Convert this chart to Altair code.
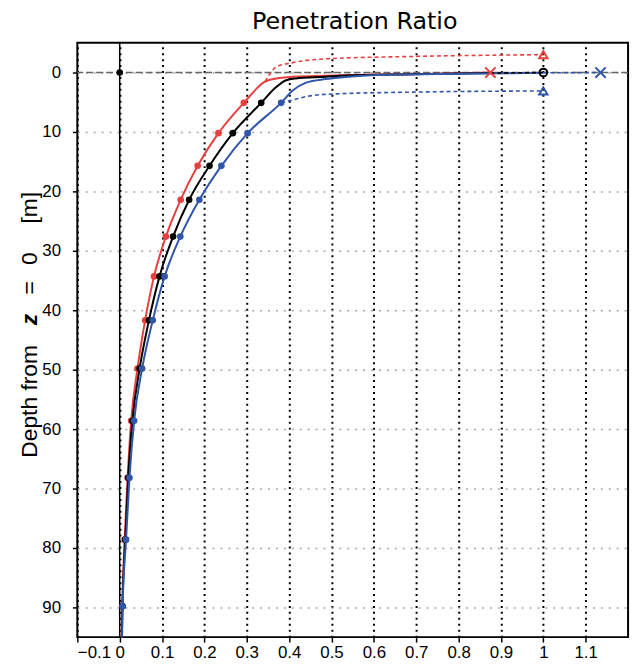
import altair as alt
import pandas as pd

# ---- data ----
chart_title = "Penetration Ratio"
ytitle_parts = ["Depth from", "z", "=", "0", "[m]"]
ytitle_centers = [362, 279.5, 247.5, 218, 166.5]  # along the axis, px from plot top
ytitle_styles = ["normal", "italic", "normal", "normal", "normal"]
ytitle_weights = ["normal", "bold", "normal", "normal", "normal"]

dot_depth = [5.1, 10.2, 15.7, 21.4, 27.6, 34.3, 41.7, 49.8, 58.6, 68.2, 78.6, 89.8]
red_dots = [0.293, 0.233, 0.184, 0.144, 0.109, 0.081, 0.060, 0.042, 0.027, 0.0186, 0.0116, 0.006]
black_dots = [0.334, 0.267, 0.212, 0.164, 0.126, 0.094, 0.069, 0.047, 0.030, 0.020, 0.013, 0.0065]
blue_dots = [0.381, 0.302, 0.240, 0.188, 0.143, 0.106, 0.078, 0.053, 0.034, 0.023, 0.015, 0.007]

# near-surface parts of the solid curves
red_surf_x = [0.343, 0.370, 0.409, 0.486, 0.61, 0.75, 0.875]
red_surf_y = [1.55, 1.0, 0.72, 0.55, 0.35, 0.2, 0.0]
black_surf_x = [0.370, 0.393, 0.416, 0.486, 0.533, 0.688, 0.875]
black_surf_y = [2.4, 1.3, 1.0, 0.72, 0.5, 0.28, 0.08]
blue_surf_x = [0.409, 0.44, 0.486, 0.533, 0.61, 0.8, 1.0]
blue_surf_y = [3.0, 1.7, 1.1, 0.75, 0.4, 0.2, 0.05]

# deepest (below frame) ends of the curves
bottom_depth = 97.0
bottom_x = {"red": 0.004, "black": 0.0045, "blue": 0.005}

# dashed curves
red_dash_x = [0.343, 0.370, 0.409, 0.486, 0.688, 1.0]
red_dash_y = [1.55, -0.95, -1.67, -2.3, -2.7, -3.0]
blue_dash_x = [0.381, 0.409, 0.44, 0.486, 0.688, 1.0]
blue_dash_y = [5.1, 4.6, 4.05, 3.67, 3.3, 3.1]
black_zero_dash_x = [0.875, 1.0]
black_zero_dash_y = [0.08, 0.0]
blue_zero_dash_x = [1.0, 1.135]
blue_zero_dash_y = [0.05, 0.0]

# end markers
cross_x = [0.875, 1.135]
cross_y = [0.0, 0.0]
cross_series = ["red", "blue"]
tri_x = [1.0, 1.0]
tri_y = [-3.0, 3.1]
tri_series = ["red", "blue"]
circle_x = [1.0]
circle_y = [0.0]

x_ticks = [-0.1, 0, 0.1, 0.2, 0.3, 0.4, 0.5, 0.6, 0.7, 0.8, 0.9, 1.0, 1.1]
y_ticks = [0, 10, 20, 30, 40, 50, 60, 70, 80, 90]

series_names = ["red", "black", "blue"]
series_colors = ["#e8403f", "#000000", "#2f56a8"]

# ---- build tables ----
solid_rows = []
dot_rows = []
surf = {
    "red": (red_dots, red_surf_x, red_surf_y),
    "black": (black_dots, black_surf_x, black_surf_y),
    "blue": (blue_dots, blue_surf_x, blue_surf_y),
}
for s, (dots, sx, sy) in surf.items():
    pts = [(bottom_x[s], bottom_depth)]
    pts += list(zip(reversed(dots), reversed(dot_depth)))
    pts += list(zip(sx, sy))
    for i, (xv, yv) in enumerate(pts):
        solid_rows.append({"x": xv, "y": yv, "s": s, "o": i})
    for xv, yv in zip(dots, dot_depth):
        dot_rows.append({"x": xv, "y": yv, "s": s})
dot_rows.append({"x": 0.0, "y": 0.0, "s": "black"})
solid_df = pd.DataFrame(solid_rows)
dot_df = pd.DataFrame(dot_rows)

dash_rows = []
for key, s, xs_, ys_ in [
    ("rd", "red", red_dash_x, red_dash_y),
    ("bd", "blue", blue_dash_x, blue_dash_y),
    ("kz", "black", black_zero_dash_x, black_zero_dash_y),
    ("bz", "blue", blue_zero_dash_x, blue_zero_dash_y),
]:
    for i, (xv, yv) in enumerate(zip(xs_, ys_)):
        dash_rows.append({"x": xv, "y": yv, "s": s, "k": key, "o": i})
dash_df = pd.DataFrame(dash_rows)

cross_df = pd.DataFrame({"x": cross_x, "y": cross_y, "s": cross_series})
tri_df = pd.DataFrame({"x": tri_x, "y": tri_y, "s": tri_series})
circ_df = pd.DataFrame({"x": circle_x, "y": circle_y})
zero_df = pd.DataFrame({"x": [0.0], "y": [0.0]})
title_df = pd.DataFrame({"t": [chart_title]})

# ---- encodings ----
LABEL_FONT = "Liberation Sans, sans-serif"
xaxis = alt.Axis(
    values=x_ticks, format=".1~f", title=None, grid=True,
    gridColor="#000000", gridDash=[2, 4], gridWidth=2,
    domain=False, ticks=True, tickColor="#000000", tickSize=5, tickWidth=1.5,
    labelFont=LABEL_FONT, labelFontSize=17, labelColor="#000000", labelPadding=3,
)
yaxis = alt.Axis(
    values=y_ticks, title=None, grid=True,
    gridColor="#a8a8a8", gridDash=[2, 6], gridWidth=1.5,
    domain=False, ticks=True, tickColor="#000000", tickSize=5, tickWidth=1.5,
    labelFont=LABEL_FONT, labelFontSize=17, labelColor="#000000", labelPadding=12,
)
xs = alt.Scale(domain=[-0.1, 1.2], nice=False, zero=False)
ys = alt.Scale(domain=[-5, 95], reverse=True, nice=False, zero=False)
X = alt.X("x:Q", scale=xs, axis=xaxis)
Y = alt.Y("y:Q", scale=ys, axis=yaxis)
C = alt.Color("s:N", scale=alt.Scale(domain=series_names, range=series_colors), legend=None)

hzero = alt.Chart(zero_df).mark_rule(color="#666666", strokeWidth=1.5, strokeDash=[7, 3]).encode(y=Y)
vzero = alt.Chart(zero_df).mark_rule(color="#000000", strokeWidth=1.5).encode(x=X)

solid = alt.Chart(solid_df).mark_line(strokeWidth=2, interpolate="monotone", clip=True).encode(
    x=X, y=Y, color=C, detail="s:N", order="o:Q"
)
dashed = alt.Chart(dash_df).mark_line(strokeWidth=1.6, strokeDash=[4, 3], interpolate="monotone", clip=True).encode(
    x=X, y=Y, color=C, detail="k:N", order="o:Q"
)
dots = alt.Chart(dot_df).mark_point(filled=True, size=45, opacity=1).encode(x=X, y=Y, color=C)
crosses = alt.Chart(cross_df).mark_point(
    shape="M-1,-1L1,1M1,-1L-1,1", size=110, strokeWidth=2, filled=False, opacity=1
).encode(x=X, y=Y, color=C)
tris = alt.Chart(tri_df).mark_point(shape="triangle-up", size=70, strokeWidth=2, filled=False, opacity=1).encode(
    x=X, y=Y, color=C
)
circ = alt.Chart(circ_df).mark_point(shape="circle", size=60, strokeWidth=2, filled=False, opacity=1,
                                     color="#000000").encode(x=X, y=Y)
title = alt.Chart(title_df).mark_text(
    font="DejaVu Sans, sans-serif", fontSize=24, color="#000000", align="center",
    baseline="alphabetic",
).encode(text="t:N", x=alt.value(280), y=alt.value(-14))

ytitle_layers = []
for txt, yc, st, wt in zip(ytitle_parts, ytitle_centers, ytitle_styles, ytitle_weights):
    ytitle_layers.append(
        alt.Chart(pd.DataFrame({"t": [txt]})).mark_text(
            font="Liberation Sans, sans-serif", fontSize=23, fontStyle=st, fontWeight=wt,
            color="#000000", align="center", baseline="alphabetic", angle=270,
        ).encode(text="t:N", x=alt.value(-41), y=alt.value(yc))
    )

chart = alt.layer(hzero, vzero, solid, dashed, dots, crosses, tris, circ, title, *ytitle_layers).properties(
    width=556, height=600,
    autosize=alt.AutoSizeParams(type="none"),
    padding={"left": 70, "top": 32, "right": 8, "bottom": 26},
).configure(background="white").configure_view(stroke="#000000", strokeWidth=2)

chart.save("out.html", embed_options={"renderer": "svg", "actions": False})
